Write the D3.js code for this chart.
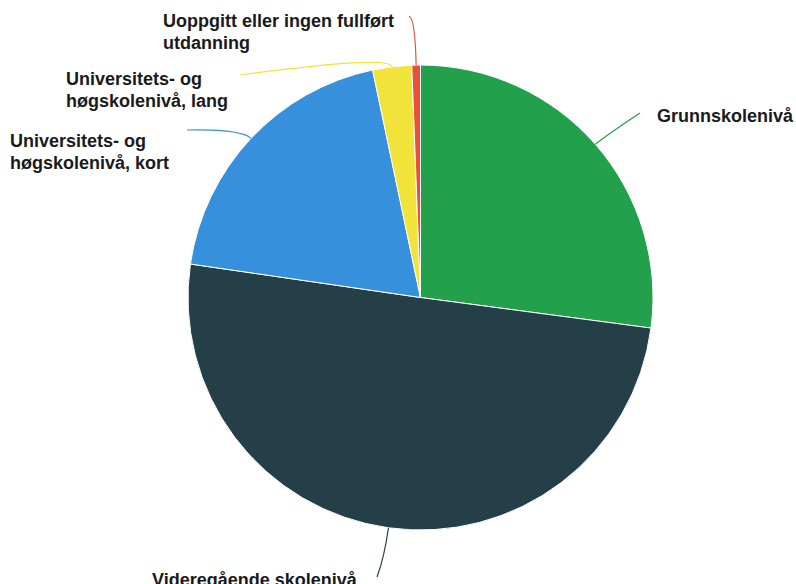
<!DOCTYPE html>
<html><head><meta charset="utf-8">
<script src="https://cdn.jsdelivr.net/npm/d3@7"></script>
<style>html,body{margin:0;padding:0;background:#fff;}svg{display:block;}</style>
</head><body>
<svg id="chart" width="796" height="584"></svg>
<script>
// Data
const categories = ["Grunnskolenivå", "Videregående skolenivå", "Universitets- og høgskolenivå, kort", "Universitets- og høgskolenivå, lang", "Uoppgitt eller ingen fullført utdanning"];
const values = [27.1, 50.2, 19.4, 2.7, 0.6];
const colors = ["#22a04b", "#253f48", "#3790db", "#f2e33a", "#e8503a"];
const labelLines = [["Grunnskolenivå"], ["Videregående skolenivå"], ["Universitets- og", "høgskolenivå, kort"], ["Universitets- og", "høgskolenivå, lang"], ["Uoppgitt eller ingen fullført", "utdanning"]];

// Layout (positions only)
const W = 796, H = 584, cx = 420.5, cy = 297.5, R = 232.5;
const labelLayout = [
  {x: 657, y: 122, end: [640, 113], ext: 10},
  {x: 152, y: 586, end: [377, 577], ext: 30},
  {x: 10, y: 147, end: [187, 130], ext: 14},
  {x: 66, y: 85, end: [240, 75], ext: 12},
  {x: 163, y: 27, end: [409, 16], ext: 46}
];
const lineH = 22;

const svg = d3.select("#chart");
const g = svg.append("g").attr("transform", `translate(${cx},${cy})`);
const pie = d3.pie().sort(null).value(d => d)(values);
const arc = d3.arc().innerRadius(0).outerRadius(R);

g.selectAll("path.slice").data(pie).join("path")
  .attr("class", "slice")
  .attr("d", arc)
  .attr("fill", (d, i) => colors[i])
  .attr("stroke", "#fff").attr("stroke-width", 1).attr("stroke-linejoin", "round");

// connectors
pie.forEach((d, i) => {
  const a = (d.startAngle + d.endAngle) / 2;
  const L = labelLayout[i];
  const sx = cx + R * Math.sin(a), sy = cy - R * Math.cos(a);
  const kx = cx + (R + L.ext) * Math.sin(a), ky = cy - (R + L.ext) * Math.cos(a);
  const p = d3.path();
  p.moveTo(sx, sy);
  p.quadraticCurveTo(kx, ky, L.end[0], L.end[1]);
  svg.append("path").attr("d", p.toString())
    .attr("fill", "none").attr("stroke", colors[i]).attr("stroke-width", 1.2);
});

// labels
labelLines.forEach((lines, i) => {
  const L = labelLayout[i];
  const t = svg.append("text")
    .attr("x", L.x).attr("y", L.y)
    .attr("font-family", "'Liberation Sans', Arial, Helvetica, sans-serif")
    .attr("font-size", 18).attr("font-weight", "bold").attr("fill", "#1a1a1a");
  lines.forEach((ln, j) => {
    t.append("tspan").attr("x", L.x).attr("y", L.y + j * lineH).text(ln);
  });
});
</script>
</body></html>
